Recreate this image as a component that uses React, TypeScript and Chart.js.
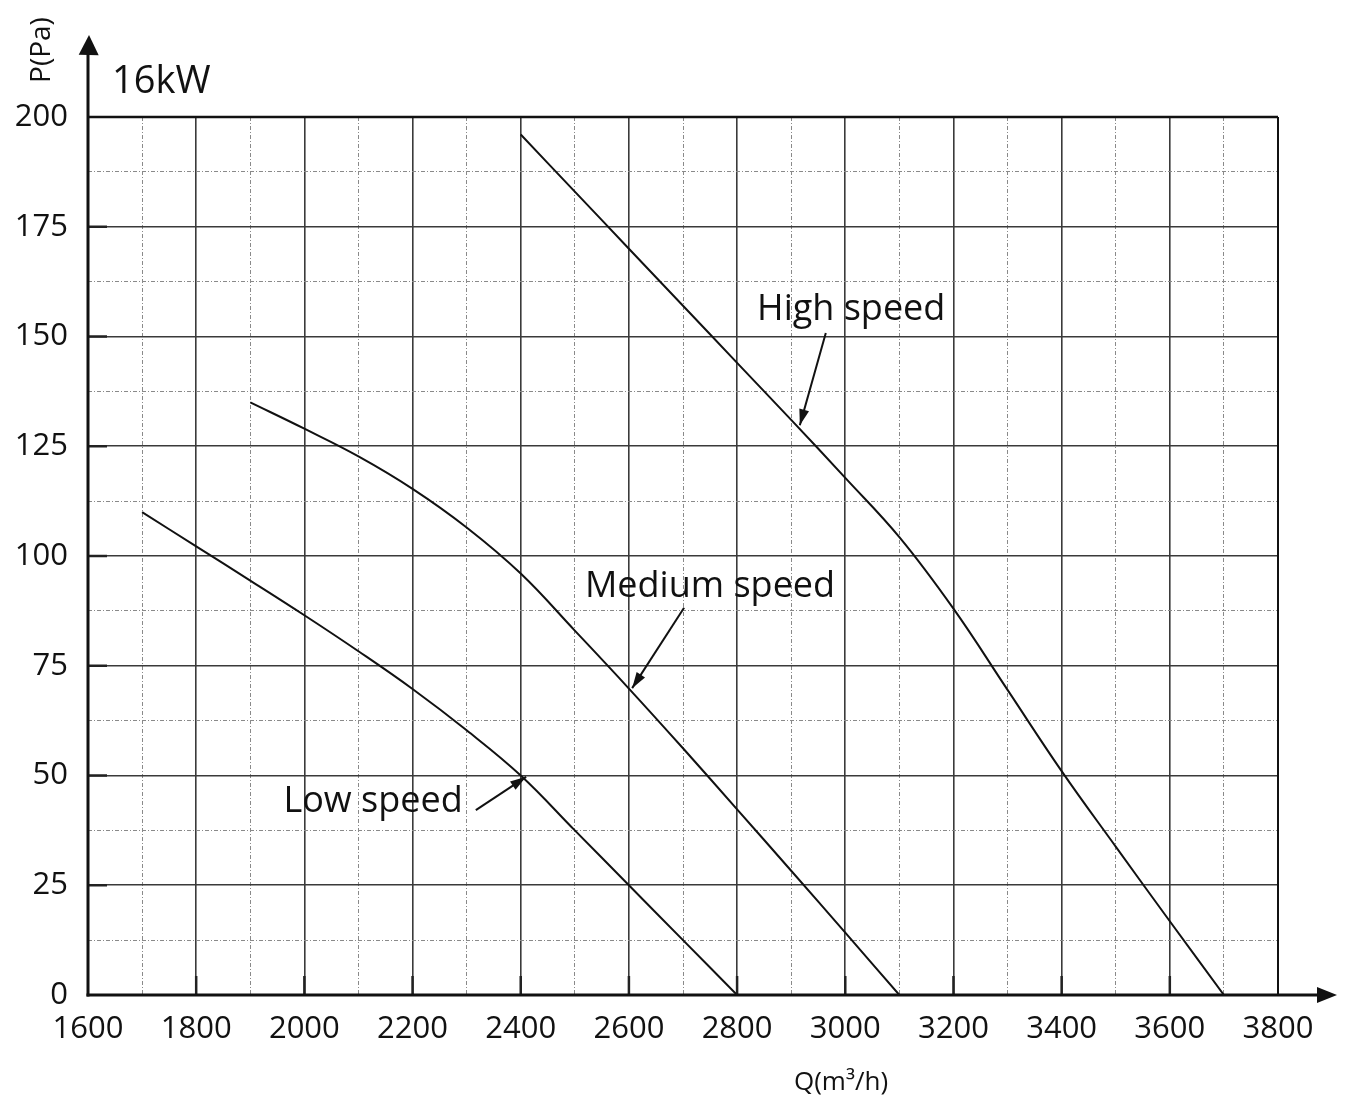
import React, { useEffect, useRef } from 'react';
import { Chart, registerables } from 'chart.js';

Chart.register(...registerables);

// ---- data ----
const lowQ = [1700, 1800, 1900, 2000, 2100, 2200, 2300, 2400, 2500, 2600, 2700, 2800];
const lowP = [110, 102.2, 94.4, 86.5, 78.3, 69.7, 60.3, 50, 37.5, 25, 12.5, 0];

const mediumQ = [1900, 2000, 2100, 2200, 2300, 2400, 2500, 2600, 2700, 2800, 2900, 3000, 3100];
const mediumP = [135, 129, 122.7, 115.3, 106.5, 96, 83, 69.8, 56.2, 42.3, 28.3, 14.2, 0];

const highQ = [2400, 2500, 2600, 2700, 2800, 2900, 3000, 3100, 3200, 3300, 3400, 3500, 3600, 3700];
const highP = [196, 183, 170, 157, 144, 131, 117.8, 104.3, 88, 69.5, 51, 33.8, 16.8, 0];

const seriesNames = ['Low speed', 'Medium speed', 'High speed'];
const chartTitle = '16kW';
const xAxisTitle = 'Q(m³/h)';
const yAxisTitle = 'P(Pa)';
const xMin = 1600;
const xMax = 3800;
const yMin = 0;
const yMax = 200;

// annotation anchors in data coordinates: [textQ, textP, tailQ, tailP, tipQ, tipP]
const labelAnchors = [
  [2127, 44, 2317, 42.1, 2410, 49.7],
  [2750, 93, 2702, 88.2, 2606, 69.9],
  [3011, 156, 2964, 150.8, 2916, 129.8],
];

const FONT = "'Open Sans', 'DejaVu Sans', sans-serif";

const toPoints = (q: number[], p: number[]) => q.map((v, i) => ({ x: v, y: p[i] }));

function arrowHead(ctx: CanvasRenderingContext2D, x1: number, y1: number, x2: number, y2: number, len: number, half: number) {
  const a = Math.atan2(y2 - y1, x2 - x1);
  ctx.beginPath();
  ctx.moveTo(x2, y2);
  ctx.lineTo(x2 - len * Math.cos(a) + half * Math.sin(a), y2 - len * Math.sin(a) - half * Math.cos(a));
  ctx.lineTo(x2 - len * Math.cos(a) - half * Math.sin(a), y2 - len * Math.sin(a) + half * Math.cos(a));
  ctx.closePath();
  ctx.fill();
}

const decorPlugin = {
  id: 'decor',
  afterDraw(chart: any) {
    const ctx: CanvasRenderingContext2D = chart.ctx;
    const xs = chart.scales.x;
    const ys = chart.scales.y;
    const area = chart.chartArea;
    ctx.save();
    ctx.fillStyle = '#111';
    ctx.strokeStyle = '#222';

    // inner tick marks
    ctx.lineWidth = 2.5;
    for (let v = xMin + 200; v < xMax; v += 200) {
      const px = xs.getPixelForValue(v);
      ctx.beginPath();
      ctx.moveTo(px, area.bottom);
      ctx.lineTo(px, area.bottom - 19);
      ctx.stroke();
    }
    for (let v = yMin + 25; v < yMax; v += 25) {
      const py = ys.getPixelForValue(v);
      ctx.beginPath();
      ctx.moveTo(area.left, py);
      ctx.lineTo(area.left + 19, py);
      ctx.stroke();
    }

    ctx.strokeStyle = '#111';
    // top and right frame
    ctx.lineWidth = 2.5;
    ctx.beginPath();
    ctx.moveTo(area.left, area.top);
    ctx.lineTo(area.right, area.top);
    ctx.stroke();
    ctx.lineWidth = 2;
    ctx.beginPath();
    ctx.moveTo(area.right, area.top);
    ctx.lineTo(area.right, area.bottom);
    ctx.stroke();

    // axes with arrows
    ctx.lineWidth = 3;
    ctx.beginPath();
    ctx.moveTo(area.left, area.bottom + 1.5);
    ctx.lineTo(area.left, 50);
    ctx.stroke();
    arrowHead(ctx, area.left, 100, area.left + 1, 35, 20, 10);
    ctx.beginPath();
    ctx.moveTo(area.left - 1.5, area.bottom);
    ctx.lineTo(1322, area.bottom);
    ctx.stroke();
    arrowHead(ctx, 1200, area.bottom, 1337, area.bottom, 20, 8);

    // titles
    ctx.textBaseline = 'alphabetic';
    ctx.textAlign = 'left';
    ctx.font = `38px ${FONT}`;
    ctx.fillText(chartTitle, area.left + 24, 93);

    ctx.font = `26px ${FONT}`;
    ctx.textAlign = 'center';
    ctx.textBaseline = 'middle';
    ctx.fillText(xAxisTitle, 841, 1083);

    ctx.save();
    ctx.translate(42, 50);
    ctx.rotate(-Math.PI / 2);
    ctx.font = `28px ${FONT}`;
    ctx.fillText(yAxisTitle, 0, 0);
    ctx.restore();

    // series annotations
    ctx.font = `36px ${FONT}`;
    ctx.textAlign = 'center';
    ctx.textBaseline = 'middle';
    ctx.lineWidth = 2;
    labelAnchors.forEach((a, i) => {
      const tx = xs.getPixelForValue(a[0]);
      const ty = ys.getPixelForValue(a[1]);
      ctx.fillText(seriesNames[i], tx, ty);
      const x1 = xs.getPixelForValue(a[2]);
      const y1 = ys.getPixelForValue(a[3]);
      const x2 = xs.getPixelForValue(a[4]);
      const y2 = ys.getPixelForValue(a[5]);
      ctx.beginPath();
      ctx.moveTo(x1, y1);
      ctx.lineTo(x2, y2);
      ctx.stroke();
      arrowHead(ctx, x1, y1, x2, y2, 16, 5);
    });

    ctx.restore();
  },
};

export default function App() {
  const canvasRef = useRef<HTMLCanvasElement | null>(null);

  useEffect(() => {
    const canvas = canvasRef.current;
    if (!canvas) return;
    const lineStyle = {
      borderColor: '#111',
      backgroundColor: '#111',
      borderWidth: 2,
      pointRadius: 0,
      fill: false,
      tension: 0.4,
    };
    const chart = new Chart(canvas, {
      type: 'line',
      data: {
        datasets: [
          { label: seriesNames[0], data: toPoints(lowQ, lowP), ...lineStyle },
          { label: seriesNames[1], data: toPoints(mediumQ, mediumP), ...lineStyle },
          { label: seriesNames[2], data: toPoints(highQ, highP), ...lineStyle },
        ],
      },
      options: {
        animation: false,
        responsive: false,
        devicePixelRatio: 1,
        layout: { padding: { top: 117, right: 69, left: 0, bottom: 0 } },
        plugins: {
          legend: { display: false },
          tooltip: { enabled: false },
          title: { display: false },
        },
        scales: {
          x: {
            type: 'linear',
            min: xMin,
            max: xMax,
            afterFit: (s: any) => { s.height = 107; },
            border: {
              display: false,
              dash: (c: any) => (c.tick && c.tick.value % 200 === 0 ? [] : [4, 2, 1, 2]),
            },
            grid: {
              drawTicks: false,
              color: (c: any) => (c.tick && c.tick.value % 200 === 0 ? '#3a3a3a' : '#8a8a8a'),
              lineWidth: (c: any) => (c.tick && c.tick.value % 200 === 0 ? 1.6 : 1),
            },
            ticks: {
              stepSize: 100,
              autoSkip: false,
              maxRotation: 0,
              padding: 16,
              color: '#111',
              font: { family: FONT, size: 31 },
              callback: (v: any) => (Number(v) % 200 === 0 ? String(v) : ''),
            },
          },
          y: {
            type: 'linear',
            min: yMin,
            max: yMax,
            afterFit: (s: any) => { s.width = 88; },
            border: {
              display: false,
              dash: (c: any) => (c.tick && c.tick.value % 25 === 0 ? [] : [4, 2, 1, 2]),
            },
            grid: {
              drawTicks: false,
              color: (c: any) => (c.tick && c.tick.value % 25 === 0 ? '#3a3a3a' : '#8a8a8a'),
              lineWidth: (c: any) => (c.tick && c.tick.value % 25 === 0 ? 1.6 : 1),
            },
            ticks: {
              stepSize: 12.5,
              autoSkip: false,
              padding: 20,
              color: '#111',
              font: { family: FONT, size: 31 },
              callback: (v: any) => (Number(v) % 25 === 0 ? String(v) : ''),
            },
          },
        },
      },
      plugins: [decorPlugin],
    });
    return () => chart.destroy();
  }, []);

  return (
    <div style={{ position: 'absolute', left: 0, top: 0, width: 1347, height: 1102, background: '#fff' }}>
      <canvas ref={canvasRef} width={1347} height={1102} />
    </div>
  );
}
